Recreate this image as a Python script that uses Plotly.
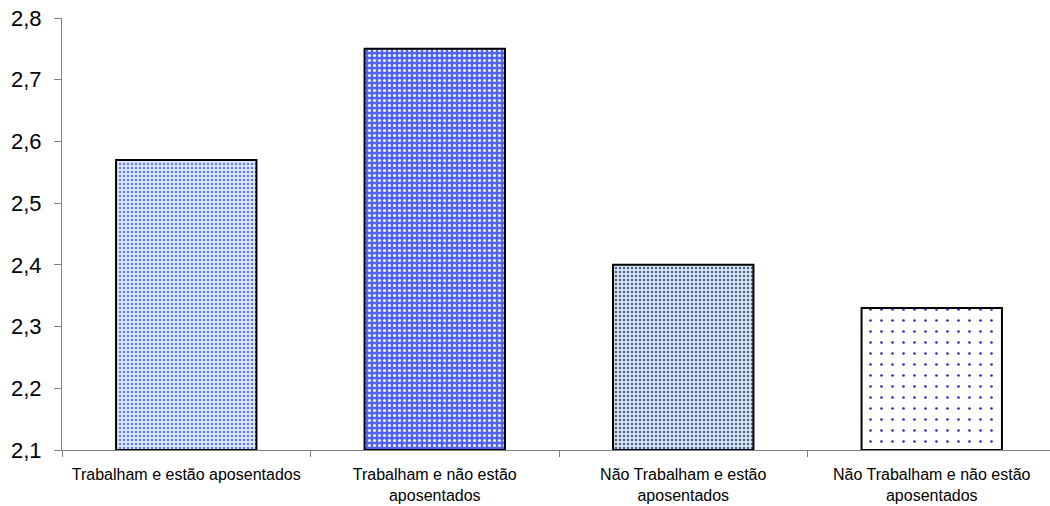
import plotly.graph_objects as go

categories = [
    "Trabalham e estão aposentados",
    "Trabalham e não estão<br>aposentados",
    "Não Trabalham e estão<br>aposentados",
    "Não Trabalham e não estão<br>aposentados",
]
values = [2.57, 2.75, 2.40, 2.33]
y_ticks = [2.1, 2.2, 2.3, 2.4, 2.5, 2.6, 2.7, 2.8]
base_value = 2.1

# fill patterns for each bar
pat_shape = [".", ".", ".", "."]
pat_fg = ["#5a80ff", "#f0f2ff", "#3a659f", "#2c2cc0"]
pat_bg = ["#e0e8ff", "#5062f2", "#dfe5ee", "#ffffff"]
pat_size = [4, 5, 4, 11]
pat_solid = [0.3, 0.3, 0.3, 0.045]

fig = go.Figure()
for i, cat in enumerate(categories):
    fig.add_trace(go.Bar(
        x=[cat],
        y=[values[i] - base_value],
        base=base_value,
        width=0.565,
        marker=dict(
            color=pat_bg[i],
            line=dict(color="#000000", width=2),
            pattern=dict(
                shape=pat_shape[i],
                fgcolor=pat_fg[i],
                bgcolor=pat_bg[i],
                fgopacity=1,
                size=pat_size[i],
                solidity=pat_solid[i],
                fillmode="replace",
            ),
        ),
    ))

fig.update_layout(
    width=1050,
    height=506,
    margin=dict(l=62, r=0, t=18, b=56),
    paper_bgcolor="white",
    plot_bgcolor="white",
    separators=",.",
    showlegend=False,
    barmode="overlay",
    font=dict(family="Liberation Sans, Arial, sans-serif", color="#000000"),
)
fig.update_xaxes(
    range=[-0.5, 3.5 - 6 / 248.5],
    tickson="boundaries",
    ticks="outside",
    ticklen=6,
    tickcolor="#808080",
    showline=True,
    linecolor="#808080",
    linewidth=1,
    showgrid=False,
    ticklabelstandoff=10,
    tickfont=dict(size=16),
)
fig.update_yaxes(
    range=[2.1, 2.8],
    tickvals=y_ticks,
    tickformat=".1f",
    ticks="outside",
    ticklen=7,
    tickcolor="#808080",
    showline=True,
    linecolor="#808080",
    linewidth=1,
    showgrid=False,
    zeroline=False,
    ticklabelstandoff=8,
    tickfont=dict(size=22),
)

fig.write_html("out.html")
